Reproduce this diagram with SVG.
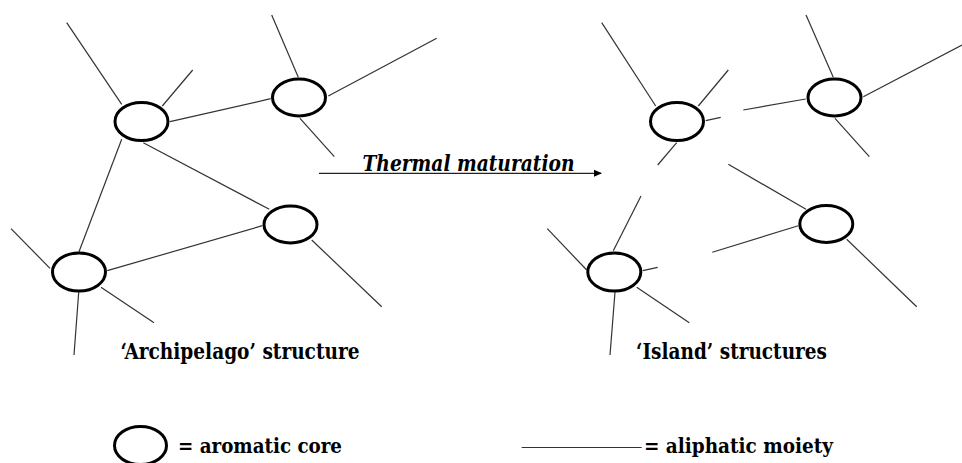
<svg xmlns="http://www.w3.org/2000/svg" width="962" height="463" viewBox="0 0 962 463">
  <style>
    .core { fill: none; stroke: #000; stroke-width: 3; }
    .chain { stroke: #333; stroke-width: 1.2; fill: none; }
    .lbl { font-family: "DejaVu Serif", "Liberation Serif", serif; font-weight: bold; fill: #000; }
    .ttl { font-family: "DejaVu Serif", "Liberation Serif", serif; font-weight: bold; font-style: italic; fill: #000; }
  </style>
  <defs>
    <marker id="head" viewBox="0 0 8 8" refX="7" refY="4" markerWidth="8" markerHeight="8" markerUnits="userSpaceOnUse" orient="auto">
      <path d="M0,0.5 L8,4 L0,7.5 Z" fill="#000"/>
    </marker>
  </defs>
  <rect width="962" height="463" fill="#fff"/>

  <!-- aliphatic chains and bridges -->
  <g id="connectors" class="chain">
    <!-- archipelago: bridges between cores -->
    <line x1="170" y1="121.7" x2="270.7" y2="98.7"/>
    <line x1="143.3" y1="142.7" x2="269.3" y2="209.3"/>
    <line x1="121.7" y1="139.3" x2="79" y2="251.7"/>
    <line x1="262.3" y1="225.7" x2="107.3" y2="270.7"/>
    <!-- archipelago: free chains -->
    <line x1="66.7" y1="22.7" x2="121.7" y2="104.3"/>
    <line x1="192.7" y1="70" x2="162.3" y2="106"/>
    <line x1="271.7" y1="15" x2="298.3" y2="77.3"/>
    <line x1="328.3" y1="96" x2="436.7" y2="38.3"/>
    <line x1="300" y1="118.3" x2="334.3" y2="156.7"/>
    <line x1="311.7" y1="240" x2="381.7" y2="306.7"/>
    <line x1="11" y1="228.7" x2="50" y2="268.3"/>
    <line x1="78.7" y1="292.3" x2="74" y2="355"/>
    <line x1="101" y1="287.3" x2="154" y2="322.7"/>
    <!-- islands -->
    <line x1="601.7" y1="22.7" x2="655.7" y2="106"/>
    <line x1="728.3" y1="70" x2="698.3" y2="106"/>
    <line x1="705.7" y1="120.7" x2="720.7" y2="117.3"/>
    <line x1="676.7" y1="142.7" x2="657.7" y2="165"/>
    <line x1="743.3" y1="110" x2="805.7" y2="99"/>
    <line x1="806" y1="15" x2="833.3" y2="77.3"/>
    <line x1="863.3" y1="96.7" x2="962" y2="45"/>
    <line x1="835" y1="118.3" x2="869.3" y2="156.7"/>
    <line x1="728.3" y1="164.3" x2="806" y2="209.3"/>
    <line x1="798.3" y1="225.7" x2="712.3" y2="252.3"/>
    <line x1="846.7" y1="239.3" x2="916.7" y2="306.7"/>
    <line x1="641" y1="196" x2="613.3" y2="250.7"/>
    <line x1="547.3" y1="228.7" x2="586.7" y2="270"/>
    <line x1="642.7" y1="270.7" x2="657.7" y2="267.3"/>
    <line x1="615" y1="292.3" x2="610" y2="355"/>
    <line x1="636.7" y1="287.3" x2="689.3" y2="322.7"/>
    <!-- process arrow -->
    <line x1="319" y1="173.3" x2="601" y2="173.3" stroke="#222" stroke-width="1.3" marker-end="url(#head)"/>
  </g>

  <!-- aromatic cores: archipelago -->
  <g id="core-a1"><ellipse class="core" cx="141.5" cy="121.5" rx="26.5" ry="19"/></g>
  <g id="core-a2"><ellipse class="core" cx="299" cy="97.5" rx="26.5" ry="18.5"/></g>
  <g id="core-a3"><ellipse class="core" cx="290.5" cy="224.5" rx="26.5" ry="18.5"/></g>
  <g id="core-a4"><ellipse class="core" cx="79" cy="272" rx="26.5" ry="19"/></g>

  <!-- aromatic cores: islands -->
  <g id="core-i1"><ellipse class="core" cx="677" cy="121.5" rx="26.5" ry="19"/></g>
  <g id="core-i2"><ellipse class="core" cx="834.5" cy="97.5" rx="26.5" ry="18.5"/></g>
  <g id="core-i3"><ellipse class="core" cx="826.3" cy="224" rx="26.5" ry="18.5"/></g>
  <g id="core-i4"><ellipse class="core" cx="614.3" cy="272" rx="26.5" ry="19"/></g>

  <!-- labels -->
  <g id="label-process">
    <text class="ttl" x="362.5" y="171" font-size="22" textLength="212" lengthAdjust="spacingAndGlyphs">Thermal maturation</text>
  </g>
  <g id="label-archipelago">
    <text class="lbl" x="120.5" y="359" font-size="21.5" textLength="239" lengthAdjust="spacingAndGlyphs">‘Archipelago’ structure</text>
  </g>
  <g id="label-island">
    <text class="lbl" x="636" y="359" font-size="21.5" textLength="191" lengthAdjust="spacingAndGlyphs">‘Island’ structures</text>
  </g>

  <!-- legend -->
  <g id="legend-core">
    <ellipse class="core" cx="140.5" cy="445.5" rx="26" ry="19"/>
    <text class="lbl" x="178" y="453" font-size="20.5" textLength="164" lengthAdjust="spacingAndGlyphs">= aromatic core</text>
  </g>
  <g id="legend-chain">
    <line class="chain" x1="521.7" y1="447.5" x2="641.7" y2="447.5"/>
    <text class="lbl" x="644" y="453" font-size="20.5" textLength="189" lengthAdjust="spacingAndGlyphs">= aliphatic moiety</text>
  </g>
</svg>
